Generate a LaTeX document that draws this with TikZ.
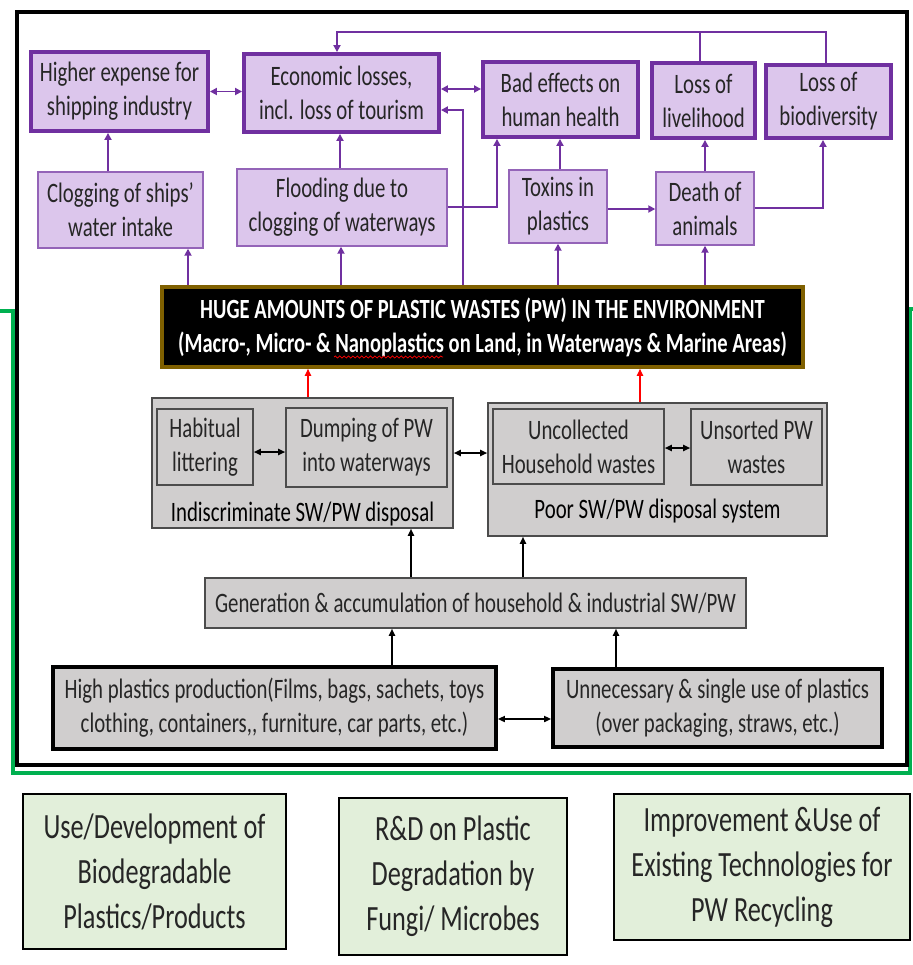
\documentclass[tikz,border=0pt]{standalone}
\usepackage{fontspec}
\setmainfont{Carlito}[FakeStretch=0.74]
\usetikzlibrary{arrows.meta,decorations.pathmorphing}
\definecolor{plum}{HTML}{7030A0}
\definecolor{lilac}{HTML}{DCC6EC}
\definecolor{ash}{HTML}{D0CECE}
\definecolor{mint}{HTML}{E2EFDA}
\definecolor{olive}{HTML}{7F6000}
\definecolor{leaf}{HTML}{00B050}
\newlength\pxl \setlength\pxl{0.02cm}

\begin{document}
\begin{tikzpicture}[x=\pxl, y=-\pxl,
    font=\fontsize{16}{19.4}\selectfont,
    sz/.style 2 args={minimum width=#1\pxl, minimum height=#2\pxl},
    effect/.style={draw=plum, line width=2.2pt, fill=lilac, align=center, inner sep=0pt, text=black!85},
    cause/.style={draw=plum!75, line width=0.8pt, fill=lilac, align=center, inner sep=0pt, text=black!85},
    bin/.style={draw=black!70, line width=0.9pt, fill=ash, align=center, inner sep=0pt, text=black!85},
    source/.style={draw=black, line width=2.2pt, fill=ash, align=center, inner sep=0pt, text=black!85},
    remedy/.style={draw=black, line width=1.6pt, fill=mint, align=center, inner sep=0pt, text=black!85, font=\fontsize{20.2}{25.6}\selectfont},
    parr/.style={draw=plum, line width=1.1pt, -{Triangle[length=4pt,width=4pt]}},
    pboth/.style={parr, {Triangle[length=4pt,width=4pt]}-{Triangle[length=4pt,width=4pt]}},
    barr/.style={draw=black, line width=0.9pt, -{Triangle[length=4pt,width=3.5pt]}},
    bboth/.style={barr, {Triangle[length=4pt,width=3.5pt]}-{Triangle[length=4pt,width=3.5pt]}},
    rarr/.style={draw=red, line width=0.9pt, -{Triangle[length=4pt,width=3.5pt]}}]

\useasboundingbox[fill=white] (0,0) rectangle (913,965);

% frames
\draw[leaf, line width=2.4pt] (0,311) -- (13,311) -- (13,773) -- (910,773) -- (910,309) -- (913,309);
\draw[line width=1.8pt] (17,12) rectangle (907,765);

% effects
\node[effect, sz={177}{79}] (hexp) at (119.5,91.5) {Higher expense for\\shipping industry};
\node[effect, sz={195}{78}] (econ) at (341.5,93) {Economic losses,\\incl. loss of tourism};
\node[effect, sz={155}{75}] (hlth) at (560.5,99.5) {Bad effects on\\human health};
\node[effect, sz={103}{75}] (lvlh) at (703.5,100.5) {Loss of\\livelihood};
\node[effect, sz={125}{73}] (bdiv) at (828.5,101.5) {Loss of\\biodiversity};

\node[cause, sz={165}{76}] (clog) at (120.5,210) {Clogging of ships'\\water intake};
\node[cause, sz={210}{77}] (flood) at (342,207.5) {Flooding due to\\clogging of waterways};
\node[cause, sz={98}{73}] (toxin) at (558,206.5) {Toxins in\\plastics};
\node[cause, sz={98}{73}] (death) at (705,208.5) {Death of\\animals};

\node[draw=olive, line width=2pt, fill=black, text=white, font=\fontsize{15.8}{19.4}\selectfont\bfseries,
      align=center, inner sep=0pt, sz={641}{80}] (huge) at (482.5,327)
  {HUGE AMOUNTS OF PLASTIC WASTES (PW) IN THE ENVIRONMENT\\
   (Macro-, Micro- \& Nanoplastics on Land, in Waterways \& Marine Areas)};
\draw[red, line width=0.4pt, decorate, decoration={snake, amplitude=0.6pt, segment length=2.5pt}] (334,357) -- (443,357);

% disposal
\node[bin, sz={301}{130}] (indis) at (302.5,463) {};
\node[bin, sz={96}{76}] (habit) at (205,447) {Habitual\\littering};
\node[bin, sz={161}{79}] (dump) at (366.5,447.5) {Dumping of PW\\into waterways};
\node (indislbl) at (302.5,514) {Indiscriminate SW/PW disposal};

\node[bin, sz={339}{133}] (poor) at (657.5,469.5) {};
\node[bin, sz={171}{75}] (uncol) at (578.5,446.5) {Uncollected\\Household wastes};
\node[bin, sz={131}{76}] (unsort) at (756.5,447) {Unsorted PW\\wastes};
\node (poorlbl) at (657.5,511) {Poor SW/PW disposal system};

\node[bin, sz={541}{50}] (gen) at (475.5,603) {Generation \& accumulation of household \& industrial SW/PW};
\node[source, sz={443}{82}] (high) at (274.5,708) {High plastics production(Films, bags, sachets, toys\\clothing, containers,{}, furniture, car parts, etc.)};
\node[source, sz={329}{78}] (unnec) at (717.5,708) {Unnecessary \& single use of plastics\\(over packaging, straws, etc.)};

% remedies
\node[remedy, sz={263}{155}] (bio) at (154.5,871.5) {Use/Development of\\Biodegradable\\Plastics/Products};
\node[remedy, sz={228}{157}] (rnd) at (453,876.5) {R\&D on Plastic\\Degradation by\\Fungi/ Microbes};
\node[remedy, sz={296}{146}] (impr) at (762,867) {Improvement \&Use of\\Existing Technologies for\\PW Recycling};

% purple links
\coordinate (topl) at (337,32);
\coordinate (topm) at (700,32);
\draw[parr] (bdiv.north -| 826,0) |- (topl) -- (econ.north -| topl);
\draw[draw=plum, line width=1.1pt] (lvlh.north -| topm) -- (topm);
\draw[pboth] (hexp.east) -- (hexp.east -| econ.west);
\draw[pboth] (econ.east |- 0,89) -- (hlth.west |- 0,89);
\draw[parr] (clog.north -| 108,0) -- (hexp.south -| 108,0);
\draw[parr] (flood.north -| 340,0) -- (econ.south -| 340,0);
\draw[parr] (flood.east |- 0,207) -| (hlth.south -| 497,0);
\draw[parr] (toxin.north -| 560,0) -- (hlth.south -| 560,0);
\draw[parr] (toxin.east |- 0,209) -- (death.west |- 0,209);
\draw[parr] (death.north) -- (death.north |- lvlh.south);
\draw[parr] (death.east |- 0,208) -| (bdiv.south -| 823,0);
\draw[parr] (huge.north -| 188,0) -- (clog.south -| 188,0);
\draw[parr] (huge.north -| 341,0) -- (flood.south -| 341,0);
\draw[parr] (huge.north -| 463,0) |- (econ.east |- 0,110);
\draw[parr] (huge.north -| 558,0) -- (toxin.south -| 558,0);
\draw[parr] (huge.north -| 705,0) -- (death.south -| 705,0);

% red and black links
\draw[rarr] (indis.north -| 308,0) -- (huge.south -| 308,0);
\draw[rarr] (poor.north -| 640,0) -- (huge.south -| 640,0);
\draw[bboth] (habit.east |- 0,452) -- (dump.west |- 0,452);
\draw[bboth] (indis.east |- 0,453) -- (poor.west |- 0,453);
\draw[bboth] (uncol.east |- 0,448) -- (unsort.west |- 0,448);
\draw[barr] (gen.north -| 411,0) -- (indis.south -| 411,0);
\draw[barr] (gen.north -| 523,0) -- (poor.south -| 523,0);
\draw[barr] (high.north -| 392,0) -- (gen.south -| 392,0);
\draw[barr] (unnec.north -| 616,0) -- (gen.south -| 616,0);
\draw[bboth] (high.east |- 0,719) -- (unnec.west |- 0,719);
\end{tikzpicture}
\end{document}
